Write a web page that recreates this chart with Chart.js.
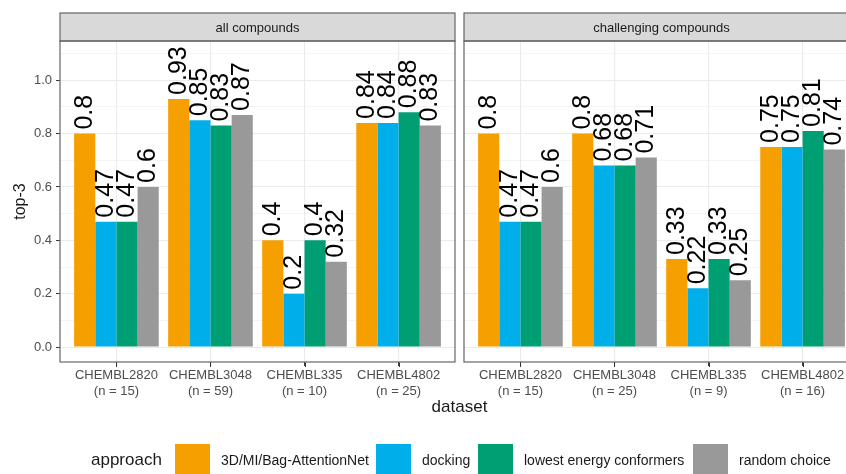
<!DOCTYPE html>
<html>
<head>
<meta charset="utf-8">
<script src="https://cdn.jsdelivr.net/npm/chart.js@4/dist/chart.umd.min.js"></script>
<style>
  html, body { margin: 0; padding: 0; background: #fff; overflow: hidden; }
  #wrap { position: relative; width: 846px; height: 474px; overflow: hidden;
          font-family: "Liberation Sans", Arial, Helvetica, sans-serif; }
  canvas { position: absolute; top: 0; }
  #cLeft { left: 0; }
  #cRight { left: 460px; }
  #xTitle { position: absolute; left: 60px; width: 799px; top: 397px; text-align: center;
            font-size: 17px; color: #1a1a1a; }
  .lg { position: absolute; white-space: nowrap; color: #1a1a1a; }
  .lgTitle { left: 91px; top: 450px; font-size: 17px; }
  .lgText { top: 452px; font-size: 14px; }
  .sw { position: absolute; top: 444px; width: 35px; height: 34px; }
</style>
</head>
<body>
<div id="wrap">
  <canvas id="cLeft" width="460" height="474"></canvas>
  <canvas id="cRight" width="404" height="474"></canvas>
  <div id="xTitle">dataset</div>
  <div id="legend"></div>
</div>
<script>
// ---- data ----
const DATASETS = ['CHEMBL2820', 'CHEMBL3048', 'CHEMBL335', 'CHEMBL4802'];
const N_ALL = [15, 59, 10, 25];
const N_CHALLENGING = [15, 25, 9, 16];
const APPROACHES = ['3D/MI/Bag-AttentionNet', 'docking', 'lowest energy conformers', 'random choice'];
const COLORS = ['#F59F00', '#00AEEA', '#009E73', '#999999'];

// top-3 scores, one array per approach, in DATASETS order
const ALL_ATTNET   = [0.80, 0.93, 0.40, 0.84];
const ALL_DOCKING  = [0.47, 0.85, 0.20, 0.84];
const ALL_LOWEST   = [0.47, 0.83, 0.40, 0.88];
const ALL_RANDOM   = [0.60, 0.87, 0.32, 0.83];

const CH_ATTNET    = [0.80, 0.80, 0.33, 0.75];
const CH_DOCKING   = [0.47, 0.68, 0.22, 0.75];
const CH_LOWEST    = [0.47, 0.68, 0.33, 0.81];
const CH_RANDOM    = [0.60, 0.71, 0.25, 0.74];

const Y_TICKS = [0, 0.1, 0.2, 0.3, 0.4, 0.5, 0.6, 0.7, 0.8, 0.9, 1.0, 1.1];
const Y_LABELS = ['0.0', '', '0.2', '', '0.4', '', '0.6', '', '0.8', '', '1.0', ''];

const FONT = '"Liberation Sans", Arial, Helvetica, sans-serif';
const STRIP_TOP = 13;
const PANEL_TOP = 41;
const CANVAS_H = 474;
const PANEL_BOTTOM = 362;

function isMajor(v) { return Math.round(v * 10) % 2 === 0; }

function makeDatasets(series) {
  return series.map((vals, k) => ({
    label: APPROACHES[k],
    data: vals.map((v, i) => ({ x: i + 1, y: v })),
    backgroundColor: COLORS[k],
    borderWidth: 0,
    categoryPercentage: 0.9,
    barPercentage: 1.0
  }));
}

// facet strip on top, panel frame and the x-axis tick marks
const panelFrame = {
  id: 'panelFrame',
  afterDraw(chart, args, opts) {
    const { ctx, chartArea: a } = chart;
    const xs = chart.scales.x;
    ctx.save();
    ctx.fillStyle = '#D9D9D9';
    ctx.fillRect(a.left, STRIP_TOP, a.right - a.left, a.top - STRIP_TOP);
    ctx.strokeStyle = '#666';
    ctx.lineWidth = 1.2;
    ctx.strokeRect(a.left, STRIP_TOP, a.right - a.left, a.top - STRIP_TOP);
    ctx.strokeRect(a.left, a.top, a.right - a.left, a.bottom - a.top);
    ctx.strokeStyle = '#333';
    ctx.lineWidth = 1;
    ctx.beginPath();
    xs.ticks.forEach(t => {
      const px = Math.round(xs.getPixelForValue(t.value)) + 0.5;
      ctx.moveTo(px, a.bottom + 0.6);
      ctx.lineTo(px, a.bottom + 5);
    });
    ctx.stroke();
    ctx.fillStyle = '#1a1a1a';
    ctx.font = '13px ' + FONT;
    ctx.textAlign = 'center';
    ctx.textBaseline = 'middle';
    ctx.fillText(opts.title, (a.left + a.right) / 2, (STRIP_TOP + a.top) / 2 + 1);
    ctx.restore();
  }
};

// rotated value labels above each bar
const barValues = {
  id: 'barValues',
  afterDatasetsDraw(chart) {
    const ctx = chart.ctx;
    ctx.save();
    ctx.font = '25px ' + FONT;
    ctx.fillStyle = '#000';
    ctx.textAlign = 'left';
    ctx.textBaseline = 'middle';
    chart.data.datasets.forEach((ds, di) => {
      chart.getDatasetMeta(di).data.forEach((bar, i) => {
        const v = ds.data[i].y;
        ctx.save();
        ctx.translate(bar.x, bar.y - 4);
        ctx.rotate(-Math.PI / 2);
        ctx.fillText(String(v), 0, 0);
        ctx.restore();
      });
    });
    ctx.restore();
  }
};

function makeChart(canvasId, series, nValues, title, showY, padding) {
  return new Chart(document.getElementById(canvasId), {
    type: 'bar',
    data: { datasets: makeDatasets(series) },
    options: {
      responsive: false,
      animation: false,
      layout: { padding },
      plugins: {
        legend: { display: false },
        tooltip: { enabled: false },
        panelFrame: { title }
      },
      scales: {
        x: {
          type: 'linear',
          min: 0.4,
          max: 4.6,
          offset: false,
          afterBuildTicks: s => { s.ticks = DATASETS.map((d, i) => ({ value: i + 1 })); },
          afterFit: s => { s.height = CANVAS_H - PANEL_BOTTOM; },
          border: { display: false },
          grid: { offset: false, color: '#EBEBEB', lineWidth: 1.1, drawTicks: true,
                  tickColor: '#333', tickLength: 4, tickWidth: 1 },
          ticks: {
            autoSkip: false, maxRotation: 0, padding: 2,
            color: '#4D4D4D', font: { family: FONT, size: 13, lineHeight: 1.2 },
            callback: v => [DATASETS[v - 1], '(n = ' + nValues[v - 1] + ')']
          }
        },
        y: {
          min: -0.056,
          max: 1.147,
          afterBuildTicks: s => { s.ticks = Y_TICKS.map(v => ({ value: v })); },
          afterFit: s => { s.width = showY ? 60 : 0; },
          border: { display: false },
          title: showY ? {
            display: true, text: 'top-3', color: '#1a1a1a',
            font: { family: FONT, size: 16 }, padding: { top: 11, bottom: 0 }
          } : { display: false },
          grid: {
            color: '#EBEBEB',
            lineWidth: c => (c.tick && isMajor(c.tick.value)) ? 1.1 : 0.55,
            drawTicks: showY,
            tickLength: 4,
            tickWidth: 1,
            tickColor: c => (c.tick && isMajor(c.tick.value)) ? '#333' : 'rgba(0,0,0,0)'
          },
          ticks: {
            display: showY,
            padding: 4,
            color: '#4D4D4D',
            font: { family: FONT, size: 13 },
            callback: (v, i) => Y_LABELS[i]
          }
        }
      }
    },
    plugins: [panelFrame, barValues]
  });
}

makeChart('cLeft',
  [ALL_ATTNET, ALL_DOCKING, ALL_LOWEST, ALL_RANDOM],
  N_ALL, 'all compounds', true,
  { top: PANEL_TOP, right: 5, left: 0, bottom: 0 });

makeChart('cRight',
  [CH_ATTNET, CH_DOCKING, CH_LOWEST, CH_RANDOM],
  N_CHALLENGING, 'challenging compounds', false,
  { top: PANEL_TOP, right: 5, left: 4, bottom: 0 });

// legend row
const SWATCH_X = [175, 376, 478, 693];
const legend = document.getElementById('legend');
const t = document.createElement('div');
t.className = 'lg lgTitle';
t.textContent = 'approach';
legend.appendChild(t);
APPROACHES.forEach((name, k) => {
  const sw = document.createElement('div');
  sw.className = 'sw';
  sw.style.left = SWATCH_X[k] + 'px';
  sw.style.background = COLORS[k];
  legend.appendChild(sw);
  const lab = document.createElement('div');
  lab.className = 'lg lgText';
  lab.style.left = (SWATCH_X[k] + 46) + 'px';
  lab.textContent = name;
  legend.appendChild(lab);
});
</script>
</body>
</html>
